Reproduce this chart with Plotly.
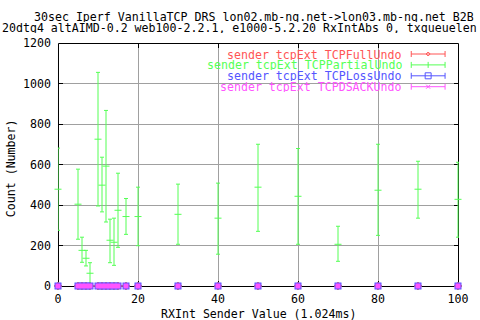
import plotly.graph_objects as go

# ---- data ----
x_vals = [0, 5, 6, 7, 8, 10, 11, 12, 13, 14, 15, 17, 20, 30, 40, 50, 60, 70, 80, 90, 100]
partial_mid = [478, 404, 176, 137, 63, 725, 498, 592, 226, 216, 374, 343, 343, 354, 335, 488, 443, 206, 473, 478, 428]
partial_hi = [681, 577, 241, 176, 115, 1055, 636, 867, 330, 335, 557, 432, 488, 503, 508, 700, 679, 295, 700, 616, 611]
partial_lo = [275, 231, 117, 99, 10, 395, 366, 316, 115, 102, 191, 255, 199, 206, 157, 270, 206, 122, 250, 335, 241]
full_undo = [0] * len(x_vals)
loss_undo = [0] * len(x_vals)
dsack_undo = [0] * len(x_vals)

series_names = ["sender tcpExt TCPFullUndo", "sender tcpExt TCPPartialUndo",
                "sender tcpExt TCPLossUndo", "sender tcpExt TCPDSACKUndo"]
colors = ["#ff5555", "#55ff55", "#5555ff", "#ff55ff"]

x_ticks = [0, 20, 40, 60, 80, 100]
y_ticks = [0, 200, 400, 600, 800, 1000, 1200]

title1 = "30sec Iperf VanillaTCP DRS lon02.mb-ng.net->lon03.mb-ng.net B2B"
title2 = "20dtg4 altAIMD-0.2 web100-2.2.1, e1000-5.2.20 RxIntAbs 0, txqueuelen"
x_title = "RXInt Sender Value (1.024ms)"
y_title = "Count (Number)"

FONT = "DejaVu Sans Mono"
FS = 11.6

# plot area in pixels (x=100 lands on pixel 460, one px inside the area)
L, R, T, B = 58, 461, 43, 286
X_MAX = 100 * (R - L) / (460 - L)


def px(p):
    return (p - L) / (R - L)


def py(p):
    return (B - p) / (B - T)


fig = go.Figure()

zero_err = dict(type="data", array=[0] * len(x_vals), visible=True, thickness=1, width=2)

fig.add_trace(go.Scatter(x=x_vals, y=full_undo, mode="markers", name=series_names[0], cliponaxis=False,
                         marker=dict(symbol="diamond-open", size=6, color=colors[0], line=dict(width=1)),
                         error_y=dict(zero_err, color=colors[0])))

fig.add_trace(go.Scatter(
    x=x_vals, y=partial_mid, mode="markers", name=series_names[1], cliponaxis=False,
    marker=dict(symbol="line-ew", size=5, color=colors[1], line=dict(width=1, color=colors[1])),
    error_y=dict(type="data", symmetric=False,
                 array=[h - m for h, m in zip(partial_hi, partial_mid)],
                 arrayminus=[m - l for m, l in zip(partial_mid, partial_lo)],
                 color=colors[1], thickness=1, width=2)))

fig.add_trace(go.Scatter(x=x_vals, y=loss_undo, mode="markers", name=series_names[2], cliponaxis=False,
                         marker=dict(symbol="square", size=7, color=colors[2]),
                         error_y=dict(zero_err, color=colors[2])))

fig.add_trace(go.Scatter(x=x_vals, y=dsack_undo, mode="markers", name=series_names[3], cliponaxis=False,
                         marker=dict(symbol="square", size=5, color=colors[3],
                                     line=dict(width=0)),
                         error_y=dict(zero_err, color=colors[3])))

shapes = []
annotations = []

# plot frame (beneath the traces, like gnuplot draws the border first)
shapes.append(dict(type="rect", xref="paper", yref="paper", layer="between",
                   x0=px(58.5), x1=px(460.5), y0=py(B + 0.5), y1=py(T + 0.5),
                   fillcolor="rgba(0,0,0,0)", line=dict(color="black", width=1)))

# white legend box covering grid
shapes.append(dict(type="rect", xref="paper", yref="paper", layer="between",
                   x0=px(210), x1=px(455), y0=py(92), y1=py(T + 1),
                   fillcolor="white", line=dict(width=0)))

# custom gnuplot-like legend
row_y = [54, 64.9, 75.8, 86.7]
for i, (name, c) in enumerate(zip(series_names, colors)):
    yy = row_y[i]
    annotations.append(dict(xref="paper", yref="paper", x=px(406), y=py(yy), text=name,
                            showarrow=False, xanchor="right", yanchor="middle", height=11,
                            font=dict(family=FONT, size=FS, color=c)))
    shapes.append(dict(type="line", xref="paper", yref="paper", x0=px(413), x1=px(447),
                       y0=py(yy), y1=py(yy), line=dict(color=c, width=1)))
    for ex in (413, 447):
        shapes.append(dict(type="line", xref="paper", yref="paper", x0=px(ex), x1=px(ex),
                           y0=py(yy - 3), y1=py(yy + 3), line=dict(color=c, width=1)))
    cx = 430
    if i == 0:
        shapes.append(dict(type="path", xref="paper", yref="paper",
                           path=f"M {px(cx-2)},{py(yy)} L {px(cx)},{py(yy-2)} L {px(cx+2)},{py(yy)} L {px(cx)},{py(yy+2)} Z",
                           line=dict(color=c, width=1)))
    elif i == 1:
        shapes.append(dict(type="line", xref="paper", yref="paper", x0=px(cx), x1=px(cx),
                           y0=py(yy - 3), y1=py(yy + 3), line=dict(color=c, width=1)))
    elif i == 2:
        shapes.append(dict(type="rect", xref="paper", yref="paper", x0=px(cx - 3), x1=px(cx + 3),
                           y0=py(yy - 3), y1=py(yy + 3), line=dict(color=c, width=1)))
    else:
        for a, b in ((-2, 2), (2, -2)):
            shapes.append(dict(type="line", xref="paper", yref="paper", x0=px(cx - 2), x1=px(cx + 2),
                               y0=py(yy + a), y1=py(yy + b), line=dict(color=c, width=1)))

# titles
annotations.append(dict(xref="paper", yref="paper", x=px(255), y=py(16.5), text=title1,
                        showarrow=False, xanchor="center", yanchor="middle", height=11,
                        font=dict(family=FONT, size=FS, color="black")))
annotations.append(dict(xref="paper", yref="paper", x=px(0), y=py(27.5), text=title2,
                        showarrow=False, xanchor="left", yanchor="middle", height=11,
                        font=dict(family=FONT, size=FS, color="black")))
annotations.append(dict(xref="paper", yref="paper", x=px(259), y=py(313.5), text=x_title,
                        showarrow=False, xanchor="center", yanchor="middle",
                        font=dict(family=FONT, size=FS, color="black")))
annotations.append(dict(xref="paper", yref="paper", x=px(11), y=py(168), text=y_title,
                        showarrow=False, xanchor="center", yanchor="middle", textangle=-90,
                        font=dict(family=FONT, size=FS, color="black")))

axis_common = dict(showline=False, mirror="ticks",
                   ticks="inside", ticklen=5, tickcolor="black", tickwidth=1,
                   showgrid=True, gridcolor="#a0a0a0", gridwidth=1, zeroline=False,
                   layer="below traces",
                   tickfont=dict(family=FONT, size=FS, color="black"))

fig.update_layout(
    width=480, height=320,
    margin=dict(l=L, r=480 - R, t=T, b=320 - B, pad=0),
    paper_bgcolor="white", plot_bgcolor="white",
    showlegend=False,
    xaxis=dict(axis_common, range=[0, X_MAX], tickvals=x_ticks, ticklabelstandoff=4),
    yaxis=dict(axis_common, range=[0, 1200], tickvals=y_ticks, ticklabelstandoff=6),
    shapes=shapes, annotations=annotations,
)

fig.write_html("out.html", config={"displayModeBar": False})
